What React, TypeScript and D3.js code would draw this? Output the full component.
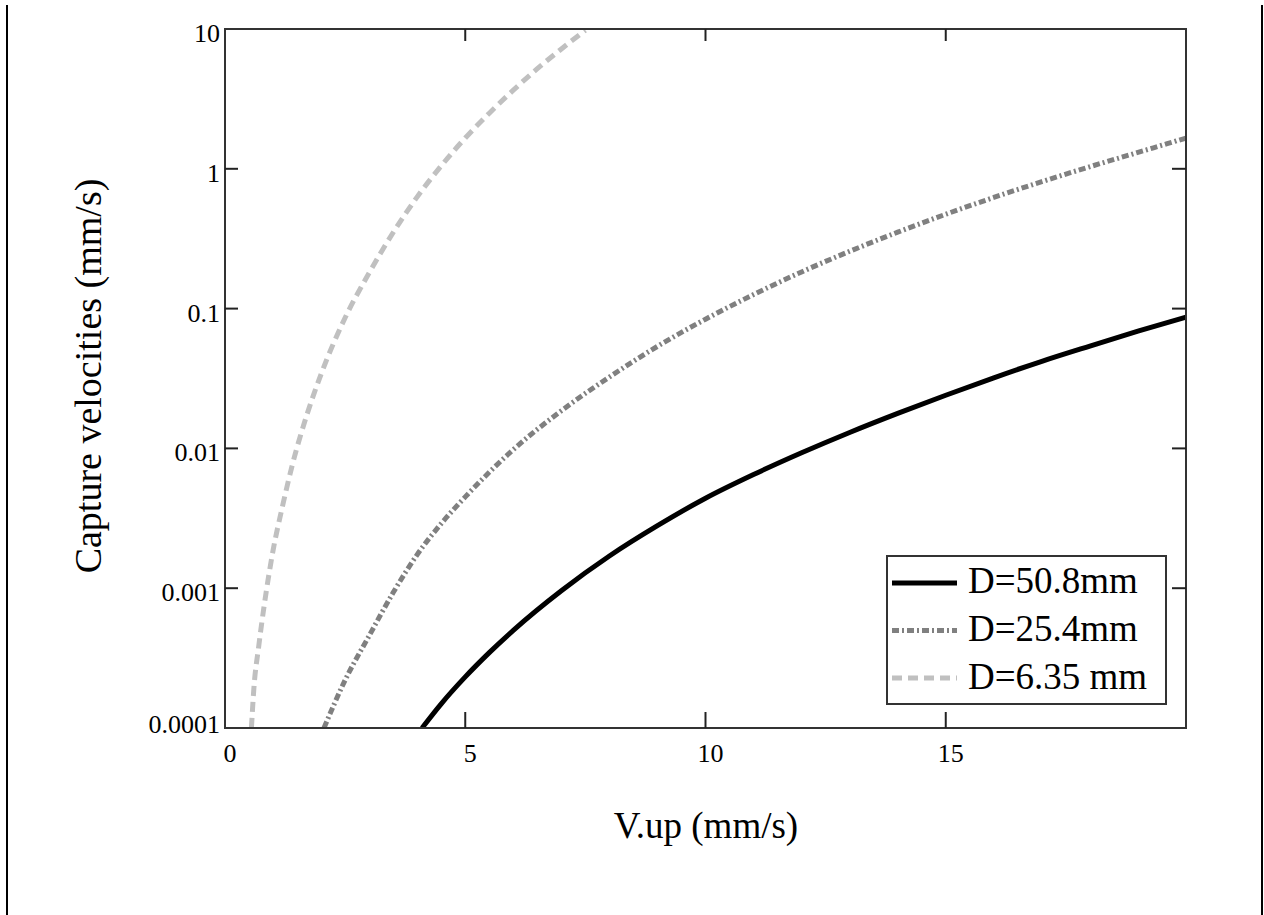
import React from "react";
import * as d3 from "d3";

// values
const labels = ["D=50.8mm", "D=25.4mm", "D=6.35 mm"];

const upLarge = [4.1, 4.5, 5, 5.5, 6, 7, 8, 9, 10, 11, 12, 13, 14, 15, 16, 17, 18, 19, 20];
const capLarge = [1.0e-4, 1.49e-4, 2.32e-4, 3.46e-4, 5.0e-4, 9.6e-4, 1.7e-3, 2.8e-3, 4.4e-3, 6.5e-3, 9.3e-3, 1.3e-2, 1.78e-2, 2.4e-2, 3.2e-2, 4.2e-2, 5.4e-2, 6.9e-2, 8.7e-2];

const upMid = [2.06, 2.5, 3, 3.5, 4, 4.5, 5, 6, 7, 8, 9, 10, 11, 12, 13, 14, 15, 16, 17, 18, 19, 20];
const capMid = [1.0e-4, 2.2e-4, 4.57e-4, 9.3e-4, 1.74e-3, 2.9e-3, 4.5e-3, 9.8e-3, 1.86e-2, 3.24e-2, 5.37e-2, 8.4e-2, 0.126, 0.183, 0.257, 0.352, 0.473, 0.624, 0.809, 1.035, 1.31, 1.66];

const upSmall = [0.55, 0.6, 0.7, 0.8, 0.9, 1.0, 1.2, 1.4, 1.7, 2.0, 2.5, 3.0, 3.5, 4.0, 4.5, 5.0, 5.5, 6.0, 6.5, 7.0, 7.5];
const capSmall = [1.0e-4, 1.9e-4, 3.8e-4, 6.9e-4, 1.17e-3, 1.86e-3, 3.9e-3, 7.6e-3, 1.72e-2, 3.4e-2, 8.6e-2, 0.18, 0.35, 0.63, 1.05, 1.66, 2.5, 3.65, 5.2, 7.2, 9.8];

const xTicks = [0, 5, 10, 15];
const yTicks = [10, 1, 0.1, 0.01, 0.001, 0.0001];
const yTickText = ["10", "1", "0.1", "0.01", "0.001", "0.0001"];

const W = 1264;
const H = 915;
const left = 225, right = 1186, top = 29, bottom = 728;
const font = "'Liberation Serif', 'Times New Roman', serif";

const styles = [
  { stroke: "#000", width: 5, dash: "" },
  { stroke: "#808080", width: 5, dash: "7,3,2,3" },
  { stroke: "#c0c0c0", width: 5, dash: "10,6" },
];

export default function App() {
  const x = d3.scaleLinear().domain([0, 20]).range([left, right]);
  const y = d3.scaleLog().domain([0.0001, 10]).range([bottom, top]);

  const line = d3
    .line<[number, number]>()
    .x((d) => x(d[0]))
    .y((d) => y(d[1]))
    .curve(d3.curveMonotoneX);

  const data: [number, number][][] = [
    upLarge.map((u, i) => [u, capLarge[i]]),
    upMid.map((u, i) => [u, capMid[i]]),
    upSmall.map((u, i) => [u, capSmall[i]]),
  ];

  const legX = 887, legY = 556, legW = 279, legH = 148;

  return (
    <svg width={W} height={H} style={{ position: "absolute", left: 0, top: 0, background: "#fff" }}>
      <rect width={W} height={H} fill="#fff" />
      {/* outer frame sides */}
      <line x1={7} x2={7} y1={5} y2={H} stroke="#000" strokeWidth={2} />
      <line x1={1262} x2={1262} y1={5} y2={H} stroke="#000" strokeWidth={2} />

      <defs>
        <clipPath id="plot">
          <rect x={left} y={top} width={right - left} height={bottom - top} />
        </clipPath>
      </defs>

      <g clipPath="url(#plot)">
        {data.map((d, i) => (
          <path
            key={i}
            d={line(d) || ""}
            fill="none"
            stroke={styles[i].stroke}
            strokeWidth={styles[i].width}
            strokeDasharray={styles[i].dash}
          />
        ))}
      </g>

      {/* frame */}
      <rect x={left} y={top} width={right - left} height={bottom - top} fill="none" stroke="#333" strokeWidth={2} />

      {/* x ticks */}
      {xTicks.map((t) => (
        <g key={"x" + t}>
          {t > 0 && (
            <>
              <line x1={x(t)} x2={x(t)} y1={bottom} y2={bottom - 16} stroke="#222" strokeWidth={2} />
              <line x1={x(t)} x2={x(t)} y1={top} y2={top + 12} stroke="#222" strokeWidth={2} />
            </>
          )}
          <text x={x(t) + 5} y={762} fontFamily={font} fontSize={26} textAnchor="middle" fill="#000">
            {t}
          </text>
        </g>
      ))}

      {/* y ticks */}
      {yTicks.map((t, i) => (
        <g key={"y" + t}>
          {t < 10 && t > 0.0001 && (
            <>
              <line x1={left} x2={left + 13} y1={y(t)} y2={y(t)} stroke="#222" strokeWidth={2} />
              <line x1={right} x2={right - 14} y1={y(t)} y2={y(t)} stroke="#222" strokeWidth={2} />
            </>
          )}
          <text
            x={220}
            y={t === 0.0001 ? y(t) + 5 : y(t) + 13}
            fontFamily={font}
            fontSize={26}
            textAnchor="end"
            fill="#000"
          >
            {yTickText[i]}
          </text>
        </g>
      ))}

      {/* axis titles */}
      <text x={706} y={838} fontFamily={font} fontSize={37} textAnchor="middle" fill="#000">
        V.up (mm/s)
      </text>
      <text
        transform={`translate(101, 376) rotate(-90)`}
        fontFamily={font}
        fontSize={38}
        textAnchor="middle"
        fill="#000"
      >
        Capture velocities (mm/s)
      </text>

      {/* legend */}
      <rect x={legX} y={legY} width={legW} height={legH} fill="#fff" stroke="#333" strokeWidth={2} />
      {labels.map((l, i) => (
        <g key={l}>
          <line
            x1={892}
            x2={957}
            y1={583 + i * 47.5}
            y2={583 + i * 47.5}
            stroke={styles[i].stroke}
            strokeWidth={styles[i].width}
            strokeDasharray={styles[i].dash}
          />
          <text x={968} y={593 + i * 48} fontFamily={font} fontSize={37} fill="#000">
            {l}
          </text>
        </g>
      ))}
    </svg>
  );
}
